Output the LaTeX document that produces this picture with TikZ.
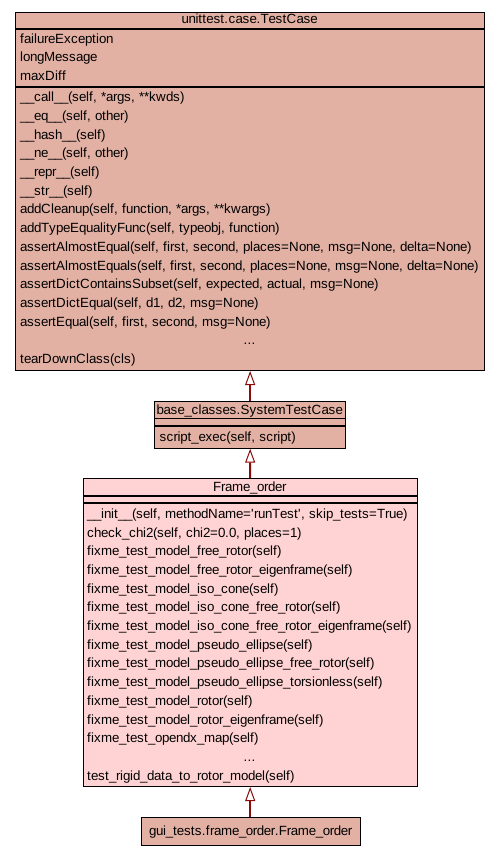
\documentclass[tikz,border=0pt]{standalone}
\usepackage{fontspec}
\setmainfont{Liberation Sans}
\usetikzlibrary{arrows.meta}
\definecolor{salmonfill}{HTML}{E2B1A4}
\definecolor{pinkfill}{HTML}{FFD3D3}
\definecolor{edgered}{HTML}{8B0A0A}
% set text with each character advanced by a whole pixel, as hinted screen text is
\ExplSyntaxOn
\box_new:N \l_pxtext_box
\dim_new:N \l_pxtext_dim
\str_new:N \l_pxtext_str
\cs_new_protected:Npn \pxtext #1
  {
    \str_set:Nx \l_pxtext_str {#1}
    \str_map_inline:Nn \l_pxtext_str
      {
        \str_if_eq:nnTF {##1} {'}
          { \hbox_set:Nn \l_pxtext_box { \textquotesingle } }
          { \hbox_set:Nn \l_pxtext_box { ##1 } }
        \dim_set:Nn \l_pxtext_dim
          { \fp_eval:n { round ( \dim_to_fp:n { \box_wd:N \l_pxtext_box } ) } pt }
        \hbox_to_wd:nn { \l_pxtext_dim } { \box_use:N \l_pxtext_box \hss }
      }
  }
\ExplSyntaxOff
\tikzset{
  classbox/.style={draw=black, line width=1pt, rectangle, inner sep=0pt, anchor=north west},
  sepline/.style={draw=black, line width=1.2pt},
  txt/.style={anchor=base west, inner sep=0pt, font=\fontsize{13.333}{16}\selectfont},
  ttl/.style={anchor=base, inner sep=0pt, font=\fontsize{13.333}{16}\selectfont},
  inh/.style={draw=edgered, line width=2pt, -{Triangle[fill=white, length=14pt, width=10pt, line width=1pt]}}
}
\begin{document}
\begin{tikzpicture}[x=1pt, y=-1pt]
\useasboundingbox (0,0) rectangle (499,856);

% unittest.case.TestCase
\node[classbox, fill=salmonfill, minimum width=469pt, minimum height=358pt] (tc) at (15,12) {};
\draw[sepline] (tc.north west |- 0,29) -- (tc.north east |- 0,29);
\draw[sepline] (tc.north west |- 0,87) -- (tc.north east |- 0,87);
\node[ttl] (tct) at (249.5,24) {\pxtext{unittest.case.TestCase}};
\foreach [count=\i] \t in {failureException, longMessage, maxDiff}
  \node[txt] (tca\i) at (20,{43.3+18.7*(\i-1)}) {\pxtext{\t}};
\foreach [count=\i] \t in {
  {__call__(self, *args, **kwds)},
  {__eq__(self, other)},
  {__hash__(self)},
  {__ne__(self, other)},
  {__repr__(self)},
  {__str__(self)},
  {addCleanup(self, function, *args, **kwargs)},
  {addTypeEqualityFunc(self, typeobj, function)},
  {assertAlmostEqual(self, first, second, places=None, msg=None, delta=None)},
  {assertAlmostEquals(self, first, second, places=None, msg=None, delta=None)},
  {assertDictContainsSubset(self, expected, actual, msg=None)},
  {assertDictEqual(self, d1, d2, msg=None)},
  {assertEqual(self, first, second, msg=None)}}
  \node[txt] (tcm\i) at (20,{101.7+18.7*(\i-1)}) {\pxtext{\t}};
\node[ttl] (tcdots) at (249.5,{101.7+18.7*13}) {\pxtext{...}};
\node[txt] (tclast) at (20,{101.7+18.7*14}) {\pxtext{tearDownClass(cls)}};

% base_classes.SystemTestCase
\node[classbox, fill=salmonfill, minimum width=190.7pt, minimum height=46.7pt] (stc) at (154.3,401) {};
\draw[sepline] (stc.north west |- 0,418.3) -- (stc.north east |- 0,418.3);
\draw[sepline] (stc.north west |- 0,426) -- (stc.north east |- 0,426);
\node[ttl] (stct) at (249.7,414) {\pxtext{base_classes.SystemTestCase}};
\node[txt] (stcm1) at (159.3,441) {\pxtext{script_exec(self, script)}};

% Frame_order
\node[classbox, fill=pinkfill, minimum width=334pt, minimum height=308pt] (fo) at (82.7,478) {};
\draw[sepline] (fo.north west |- 0,496) -- (fo.north east |- 0,496);
\draw[sepline] (fo.north west |- 0,503) -- (fo.north east |- 0,503);
\node[ttl] (fot) at (249.7,491) {\pxtext{Frame_order}};
\foreach [count=\i] \t in {
  {__init__(self, methodName='runTest', skip_tests=True)},
  {check_chi2(self, chi2=0.0, places=1)},
  {fixme_test_model_free_rotor(self)},
  {fixme_test_model_free_rotor_eigenframe(self)},
  {fixme_test_model_iso_cone(self)},
  {fixme_test_model_iso_cone_free_rotor(self)},
  {fixme_test_model_iso_cone_free_rotor_eigenframe(self)},
  {fixme_test_model_pseudo_ellipse(self)},
  {fixme_test_model_pseudo_ellipse_free_rotor(self)},
  {fixme_test_model_pseudo_ellipse_torsionless(self)},
  {fixme_test_model_rotor(self)},
  {fixme_test_model_rotor_eigenframe(self)},
  {fixme_test_opendx_map(self)}}
  \node[txt] (fom\i) at (87,{518.3+18.7*(\i-1)}) {\pxtext{\t}};
\node[ttl] (fodots) at (249.7,{518.3+18.7*13}) {\pxtext{...}};
\node[txt] (folast) at (87,{518.3+18.7*14}) {\pxtext{test_rigid_data_to_rotor_model(self)}};

% gui_tests.frame_order.Frame_order
\node[classbox, fill=salmonfill, minimum width=219pt, minimum height=28.3pt] (gui) at (141,816.7) {};
\node[ttl] (guit) at (250.5,835) {\pxtext{gui_tests.frame_order.Frame_order}};

% inheritance arrows
\draw[inh] (stc.north) -- (tc.south -| stc.north);
\draw[inh] (fo.north) -- (stc.south);
\draw[inh] (gui.north -| fo.south) -- (fo.south);
\end{tikzpicture}
\end{document}
